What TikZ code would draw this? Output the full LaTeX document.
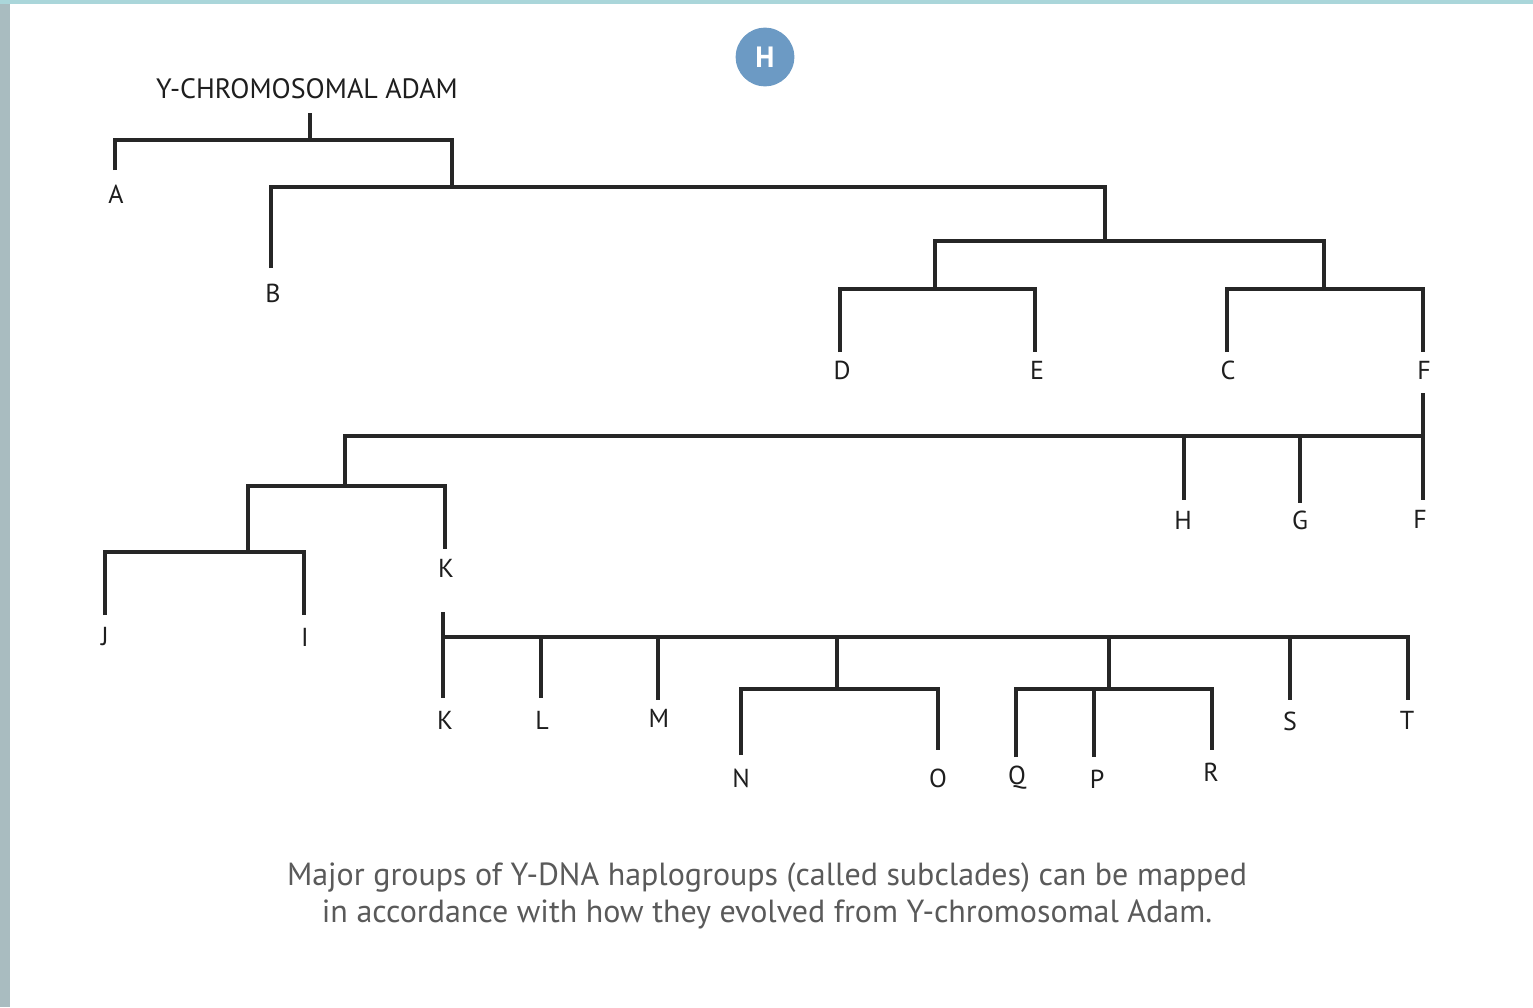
\documentclass[tikz,border=0pt]{standalone}
\usepackage{fontspec}
\setmainfont{PT Sans}
\definecolor{linec}{HTML}{262626}
\definecolor{labc}{HTML}{1E1E1E}
\definecolor{capc}{HTML}{5A5A5A}
\definecolor{badge}{HTML}{6C9AC4}
\definecolor{stripL}{HTML}{A9BCC0}
\definecolor{stripT}{HTML}{AAD6DA}
\begin{document}
\begin{tikzpicture}[x=0.75pt,y=-0.75pt,
  tree/.style={line width=3pt, draw=linec, line join=miter},
  lab/.style={font=\fontsize{19.5}{19.5}\selectfont, text=labc, inner sep=0pt},
  rootlab/.style={font=\fontsize{21}{21}\selectfont, text=labc, inner sep=0pt},
  capt/.style={font=\fontsize{24}{27.5}\selectfont, text=capc, align=center, inner sep=0pt}]
\useasboundingbox (0,0) rectangle (1533,1007);
\fill[white] (0,0) rectangle (1533,1007);
\fill[stripL] (0,0) rectangle (10,1007);
\fill[stripT] (0,0) rectangle (1533,4);

% badge
\node[circle, fill=badge, minimum width=44pt, inner sep=0pt, text=white,
      font=\fontsize{22}{22}\selectfont\bfseries] (badge) at (765,57) {H};

% root
\node[rootlab] (adam) at (307,89) {Y-CHROMOSOMAL ADAM};
\coordinate (root) at (310,113);
\coordinate (j1) at (310,140);
\coordinate (c1L) at (115,140);
\coordinate (c1R) at (452,140);
\coordinate (A-end) at (115,170);
\coordinate (j2) at (452,187);
\draw[tree] (root) -- (j1);
\draw[tree] (A-end) -- (c1L) -- (c1R) -- (j2);

% B versus the rest
\coordinate (c2L) at (271,187);
\coordinate (c2R) at (1105,187);
\coordinate (B-end) at (271,268);
\coordinate (j3) at (1105,241);
\draw[tree] (B-end) -- (c2L) -- (c2R) -- (j3);

% DE and CF
\coordinate (c3L) at (935,241);
\coordinate (c3R) at (1324,241);
\coordinate (jDE) at (935,289);
\coordinate (jCF) at (1324,289);
\draw[tree] (jDE) -- (c3L) -- (c3R) -- (jCF);
\coordinate (D-end) at (840,352);
\coordinate (cDEL) at (840,289);
\coordinate (cDER) at (1035,289);
\coordinate (E-end) at (1035,352);
\draw[tree] (D-end) -- (cDEL) -- (cDER) -- (E-end);
\coordinate (C-end) at (1227,352);
\coordinate (cCFL) at (1227,289);
\coordinate (cCFR) at (1423,289);
\coordinate (F-end) at (1423,352);
\draw[tree] (C-end) -- (cCFL) -- (cCFR) -- (F-end);

% F subtree
\coordinate (F-top) at (1423,393);
\coordinate (F-bot) at (1423,500);
\coordinate (cFL) at (345,436);
\coordinate (cFR) at (1423,436);
\coordinate (jIJK) at (345,486);
\draw[tree] (F-top) -- (F-bot);
\draw[tree] (jIJK) -- (cFL) -- (cFR);
\coordinate (cH) at (1184,436);
\coordinate (H-end) at (1184,500);
\coordinate (cG) at (1300,436);
\coordinate (G-end) at (1300,503);
\draw[tree] (cH) -- (H-end);
\draw[tree] (cG) -- (G-end);

% IJ and K
\coordinate (cIJKL) at (248,486);
\coordinate (cIJKR) at (445,486);
\coordinate (K-end) at (445,549);
\coordinate (jIJ) at (248,552);
\draw[tree] (jIJ) -- (cIJKL) -- (cIJKR) -- (K-end);
\coordinate (J-end) at (105,615);
\coordinate (cIJL) at (105,552);
\coordinate (cIJR) at (304,552);
\coordinate (I-end) at (304,615);
\draw[tree] (J-end) -- (cIJL) -- (cIJR) -- (I-end);

% K subtree
\coordinate (K-top) at (443,612);
\coordinate (K-bot) at (443,698);
\coordinate (cKL) at (443,637);
\coordinate (cKR) at (1408,637);
\coordinate (T-end) at (1408,700);
\draw[tree] (K-top) -- (K-bot);
\draw[tree] (cKL) -- (cKR) -- (T-end);
\coordinate (cL) at (541,637);
\coordinate (L-end) at (541,698);
\draw[tree] (cL) -- (L-end);
\coordinate (cM) at (658,637);
\coordinate (M-end) at (658,700);
\draw[tree] (cM) -- (M-end);
\coordinate (cS) at (1290,637);
\coordinate (S-end) at (1290,700);
\draw[tree] (cS) -- (S-end);

% NO
\coordinate (cNO) at (837,637);
\coordinate (jNO) at (837,689);
\draw[tree] (cNO) -- (jNO);
\coordinate (N-end) at (741,755);
\coordinate (cNOL) at (741,689);
\coordinate (cNOR) at (938,689);
\coordinate (O-end) at (938,750);
\draw[tree] (N-end) -- (cNOL) -- (cNOR) -- (O-end);

% QPR
\coordinate (cQPR) at (1109,637);
\coordinate (jQPR) at (1109,689);
\draw[tree] (cQPR) -- (jQPR);
\coordinate (Q-end) at (1016,757);
\coordinate (cQL) at (1016,689);
\coordinate (cRR) at (1212,689);
\coordinate (R-end) at (1212,750);
\draw[tree] (Q-end) -- (cQL) -- (cRR) -- (R-end);
\coordinate (cP) at (1094,689);
\coordinate (P-end) at (1094,757);
\draw[tree] (cP) -- (P-end);

% leaf labels
\node[lab] (lA) at (116,194) {A};
\node[lab] (lB) at (273,293) {B};
\node[lab] (lD) at (842,370) {D};
\node[lab] (lE) at (1037,370) {E};
\node[lab] (lC) at (1228,370) {C};
\node[lab] (lF1) at (1424,370) {F};
\node[lab] (lH) at (1183,520) {H};
\node[lab] (lG) at (1300,520) {G};
\node[lab] (lF2) at (1420,519) {F};
\node[lab] (lK1) at (446,568) {K};
\node[lab] (lJ) at (105,637) {J};
\node[lab] (lI) at (305,637) {I};
\node[lab] (lK2) at (445,720) {K};
\node[lab] (lL) at (542,720) {L};
\node[lab] (lM) at (659,718) {M};
\node[lab] (lN) at (741,778) {N};
\node[lab] (lO) at (938,778) {O};
\node[lab] (lQ) at (1017,778) {Q};
\node[lab] (lP) at (1097,779) {P};
\node[lab] (lR) at (1211,772) {R};
\node[lab] (lS) at (1290,721) {S};
\node[lab] (lT) at (1407,720) {T};

% caption
\node[capt] (caption) at (767,896) {Major groups of Y-DNA haplogroups (called subclades) can be mapped\\in accordance with how they evolved from Y-chromosomal Adam.};
\end{tikzpicture}
\end{document}
